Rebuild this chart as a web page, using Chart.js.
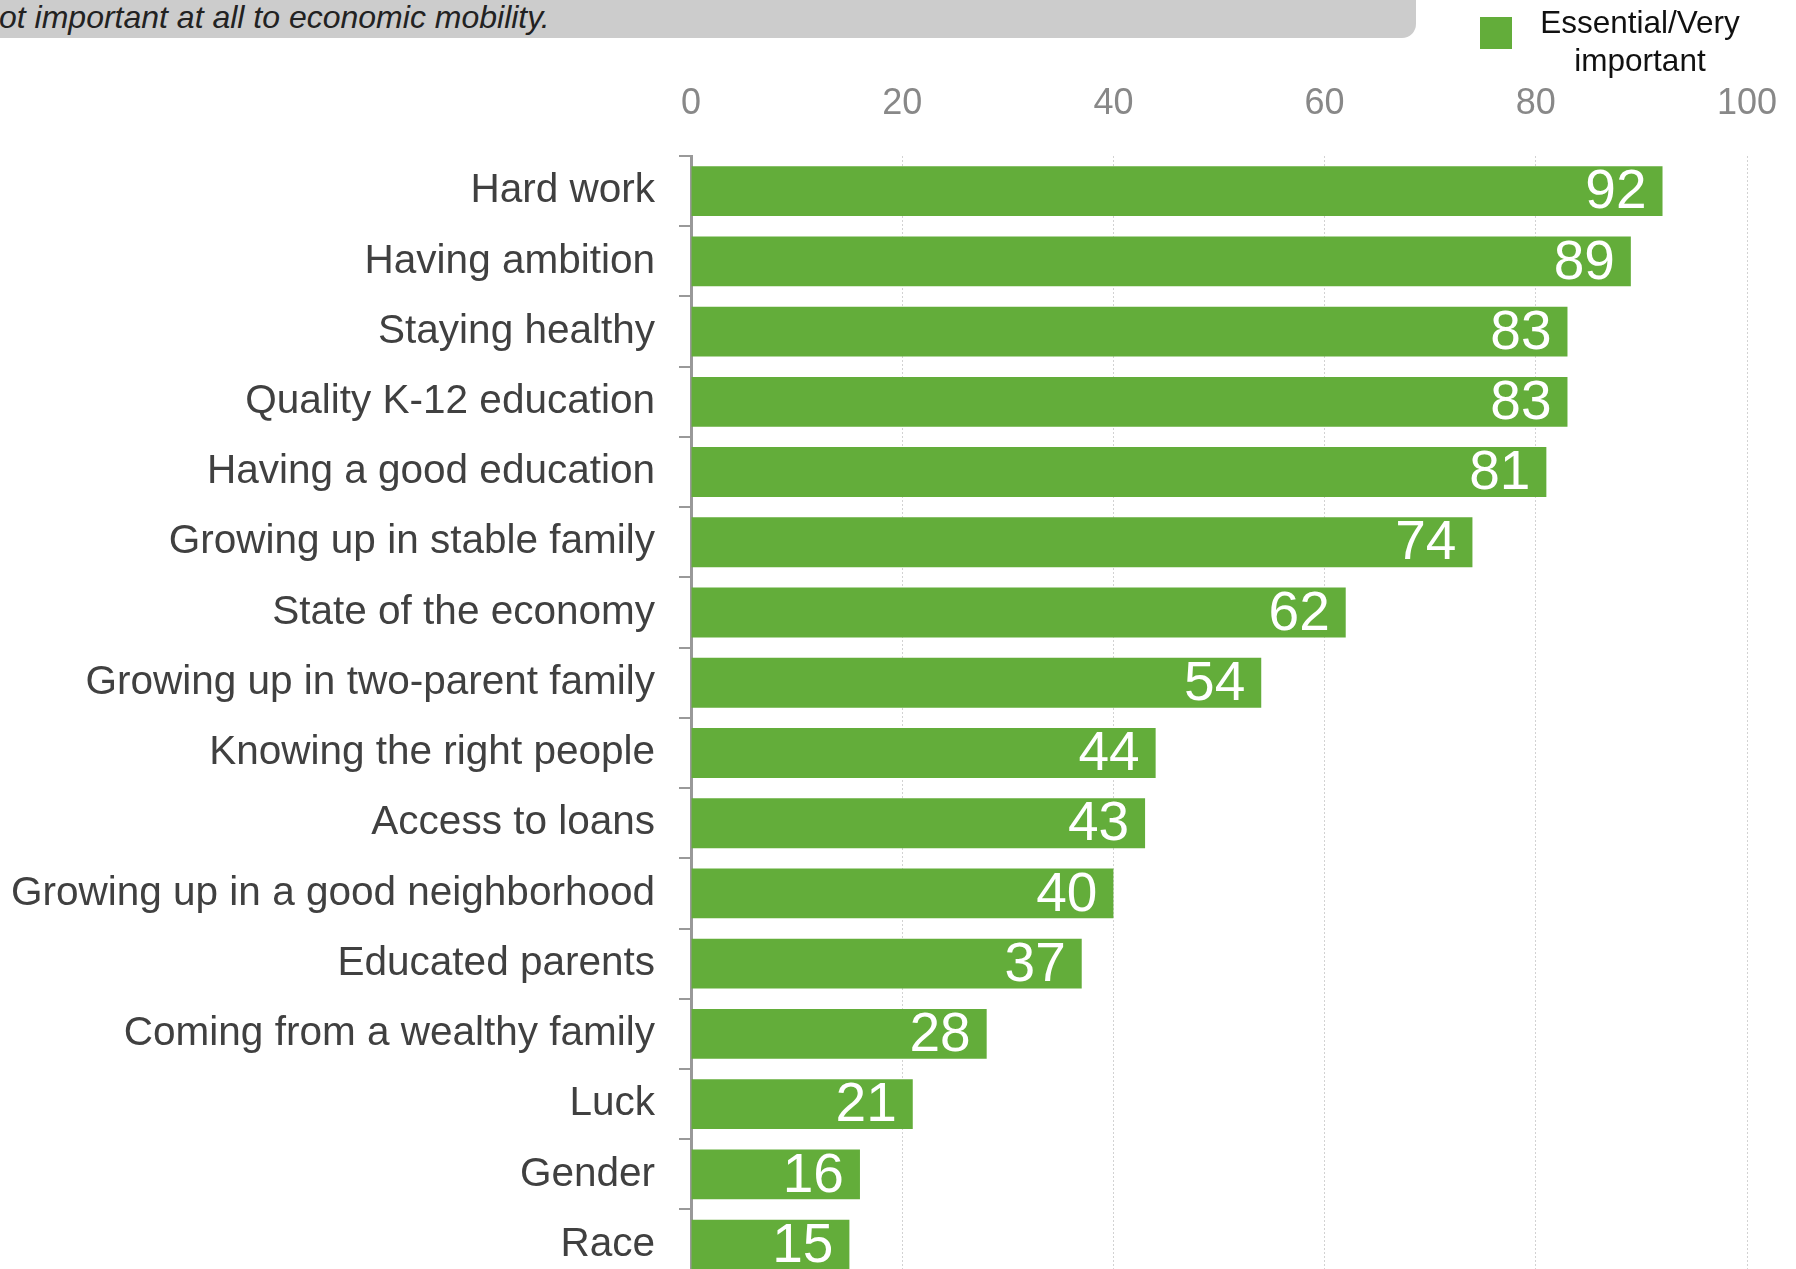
<!DOCTYPE html>
<html lang="en">
<head>
  <meta charset="UTF-8">
  <title>Economic mobility factors</title>
  <script src="https://cdn.jsdelivr.net/npm/chart.js"></script>
  <style>
    html, body { margin: 0; padding: 0; width: 1796px; height: 1269px; overflow: hidden; background: #fff; }
    body { position: relative; font-family: "Liberation Sans", Arial, sans-serif; }
    #note { position: absolute; left: -30px; top: -30px; width: 1446px; height: 68px; background: #cccccc; border-radius: 14px; }
    #noteText { position: absolute; left: -1px; top: -1px; font: italic 32px "Liberation Sans Narrow", "Liberation Sans", sans-serif; color: #222; white-space: nowrap; }
    #legend { position: absolute; left: 1480px; top: 17px; }
    #legend .swatch { position: absolute; left: 0; top: 0; width: 32px; height: 32px; background: #63ad3a; }
    #legend .label { position: absolute; left: 50px; top: -14px; width: 220px; text-align: center; font-size: 31.5px; line-height: 38px; color: #111; }
    #chartBox { position: absolute; left: 0; top: 0; }
  </style>
</head>
<body>

  <!-- cropped note box at the top -->
  <div id="note"></div>
  <div id="noteText">ot important at all to economic mobility.</div>

  <div id="chartBox"><canvas id="mobilityChart" width="1796" height="1328"></canvas></div>

  <div id="legend">
    <div class="swatch"></div>
    <div class="label">Essential/Very<br>important</div>
  </div>

  <script>
    // --- DATA ---
    const categories = [
      'Hard work', 'Having ambition', 'Staying healthy', 'Quality K-12 education',
      'Having a good education', 'Growing up in stable family', 'State of the economy',
      'Growing up in two-parent family', 'Knowing the right people', 'Access to loans',
      'Growing up in a good neighborhood', 'Educated parents', 'Coming from a wealthy family',
      'Luck', 'Gender', 'Race'
    ];
    const values = [92, 89, 83, 83, 81, 74, 62, 54, 44, 43, 40, 37, 28, 21, 16, 15];
    const xTicks = [0, 20, 40, 60, 80, 100];
    const seriesName = 'Essential/Very important';

    const GREEN = '#63ad3a';

    // white value labels at the end of each bar
    const barLabels = {
      id: 'barLabels',
      afterDatasetsDraw(chart) {
        const ctx = chart.ctx;
        const meta = chart.getDatasetMeta(0);
        ctx.save();
        ctx.font = '55px "Liberation Sans", Arial, sans-serif';
        ctx.fillStyle = '#ffffff';
        ctx.textAlign = 'right';
        ctx.textBaseline = 'middle';
        meta.data.forEach((bar, i) => {
          ctx.fillText(String(values[i]), bar.x - 16, bar.y + 2);
        });
        ctx.restore();
      }
    };

    new Chart(document.getElementById('mobilityChart'), {
      type: 'bar',
      data: {
        labels: categories,
        datasets: [{
          label: seriesName,
          data: values,
          backgroundColor: GREEN,
          borderWidth: 0,
          categoryPercentage: 1,
          barPercentage: 0.71
        }]
      },
      plugins: [barLabels],
      options: {
        indexAxis: 'y',
        responsive: false,
        animation: false,
        devicePixelRatio: 1,
        layout: { padding: { top: 80, right: 49, bottom: 9, left: 0 } },
        plugins: { legend: { display: false }, tooltip: { enabled: false } },
        scales: {
          x: {
            position: 'top',
            min: xTicks[0],
            max: xTicks[xTicks.length - 1],
            afterBuildTicks: axis => { axis.ticks = xTicks.map(v => ({ value: v })); },
            afterFit: axis => {
              axis.height = 76;
              axis.paddingLeft = 0;
              axis.paddingRight = 0;
            },
            ticks: {
              color: '#888888',
              padding: 30,
              font: { family: '"Liberation Sans", Arial, sans-serif', size: 36 }
            },
            grid: { color: '#d2d2d2', lineWidth: 1, drawTicks: false },
            border: { display: false, dash: [2, 2] }
          },
          y: {
            afterFit: axis => { axis.width = 691; },
            ticks: {
              color: '#404040',
              padding: 24,
              font: { family: '"Liberation Sans", Arial, sans-serif', size: 40.5 }
            },
            grid: { drawOnChartArea: false, offset: true, tickLength: 12, color: '#999999', lineWidth: 2 },
            border: { color: '#999999', width: 3 }
          }
        }
      }
    });
  </script>
</body>
</html>
